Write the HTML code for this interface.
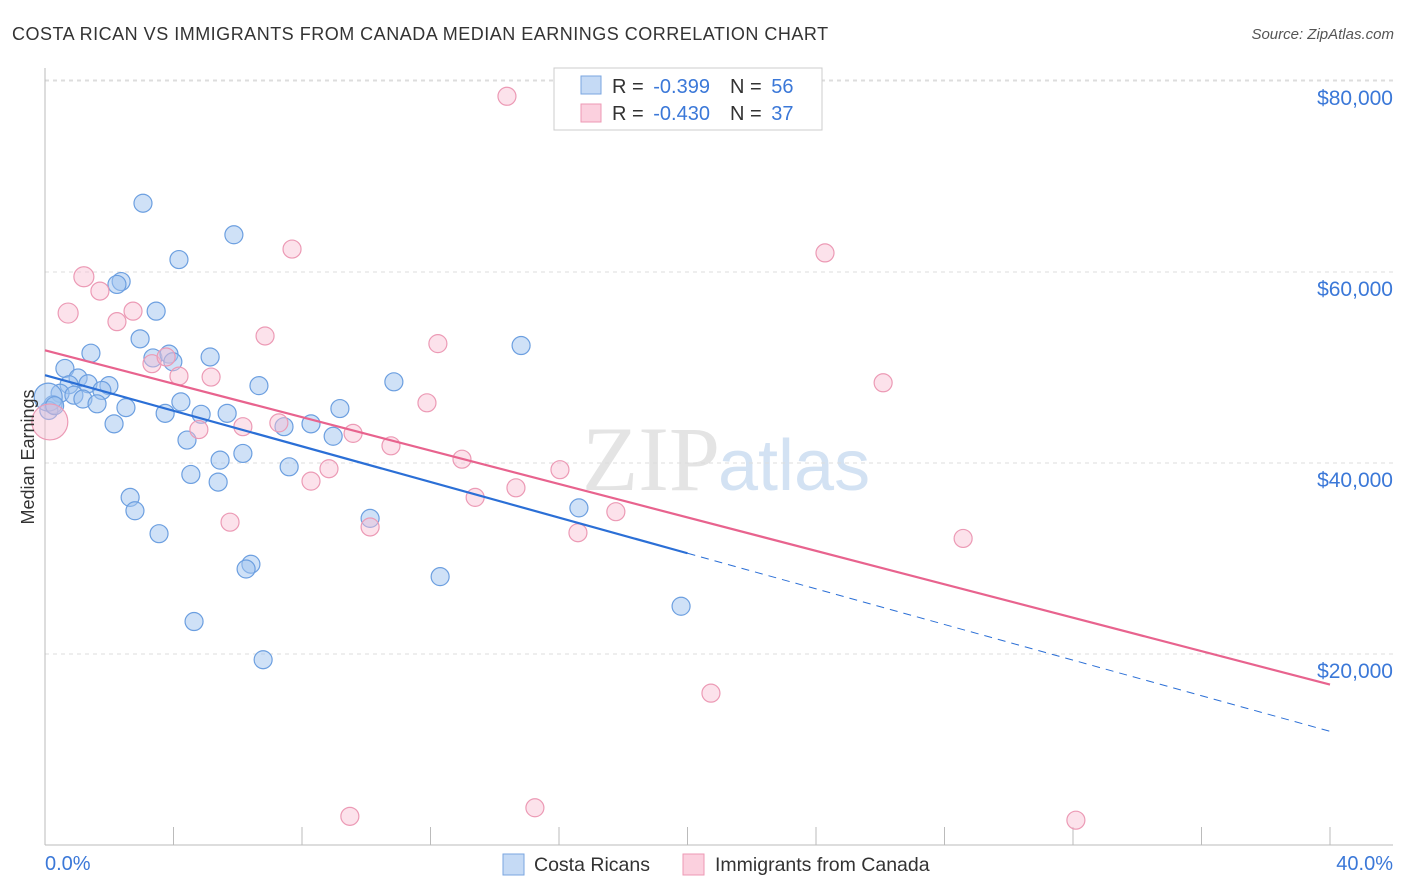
<!DOCTYPE html>
<html><head><meta charset="utf-8"><style>
body{margin:0;background:#fff;font-family:"Liberation Sans",sans-serif}
svg{display:block}
</style></head><body>
<svg id="chart" width="1406" height="892">
<text x="12" y="40" font-size="18" fill="#333" letter-spacing="0.5">COSTA RICAN VS IMMIGRANTS FROM CANADA MEDIAN EARNINGS CORRELATION CHART</text>
<text x="1394" y="39" font-size="15" fill="#555" font-style="italic" text-anchor="end">Source: ZipAtlas.com</text>
<text x="720" y="490" font-size="92" fill="#e4e4e4" text-anchor="end" font-family="Liberation Serif">ZIP</text>
<text x="718" y="490" font-size="72" fill="#d3e2f3">atlas</text>
<g id="grid"></g>
<g id="axes"></g>
<g id="marks"></g>
<g id="trends"></g>
<text x="34" y="457" font-size="18" fill="#333" text-anchor="middle" transform="rotate(-90 34 457)">Median Earnings</text>
<text x="45" y="870" font-size="20" fill="#3b78d8">0.0%</text>
<text x="1393" y="870" font-size="20" fill="#3b78d8" text-anchor="end">40.0%</text>
<g>
<rect x="554" y="68" width="268" height="62" fill="#fff" stroke="#ccc"/>
<rect x="581" y="76" width="20" height="18" fill="#c5daf5" stroke="#7aa6e0"/>
<rect x="581" y="104" width="20" height="18" fill="#fbd0de" stroke="#ee99b4"/>
<text x="612" y="93" font-size="20" fill="#333">R = <tspan fill="#3b78d8" dx="4">-0.399</tspan><tspan dx="20">N = </tspan><tspan fill="#3b78d8" dx="4">56</tspan></text>
<text x="612" y="120" font-size="20" fill="#333">R = <tspan fill="#3b78d8" dx="4">-0.430</tspan><tspan dx="20">N = </tspan><tspan fill="#3b78d8" dx="4">37</tspan></text>
</g>
<g>
<rect x="503" y="854" width="21" height="21" fill="#c5daf5" stroke="#7aa6e0"/>
<text x="534" y="871" font-size="19.5" fill="#333">Costa Ricans</text>
<rect x="683" y="854" width="21" height="21" fill="#fbd0de" stroke="#ee99b4"/>
<text x="715" y="871" font-size="19.5" fill="#333">Immigrants from Canada</text>
</g>
</svg>
<script>
const yTicks=[20000,40000,60000,80000];
const yTickLabels=["$20,000","$40,000","$60,000","$80,000"];
const xTicks=[0,4,8,12,16,20,24,28,32,36,40];
const blueX=[3.05,5.88,4.17,2.37,2.24,3.46,2.96,1.43,3.36,3.86,5.14,3.98,0.62,1.03,0.75,1.34,1.99,1.77,0.47,0.90,1.18,1.62,2.52,0.25,0.12,4.23,3.74,4.86,5.67,6.66,10.86,14.82,9.18,8.28,2.15,7.44,4.42,6.16,5.45,7.60,4.54,5.39,2.65,2.80,10.12,8.97,16.62,3.55,6.41,6.26,12.30,19.80,4.64,6.79,0.1,0.3];
const blueY=[67.2,63.9,61.3,59.0,58.7,55.9,53.0,51.5,51.0,51.4,51.1,50.6,49.9,48.9,48.2,48.3,48.1,47.6,47.3,47.1,46.7,46.2,45.8,46.1,45.5,46.4,45.2,45.1,45.2,48.1,48.5,52.3,45.7,44.1,44.1,43.8,42.4,41.0,40.3,39.6,38.8,38.0,36.4,35.0,34.2,42.8,35.3,32.6,29.4,28.9,28.1,25.0,23.4,19.4,46.9,46.0];
const blueR=[9,9,9,9,9,9,9,9,9,9,9,9,9,9,9,9,9,9,9,9,9,9,9,9,9,9,9,9,9,9,9,9,9,9,9,9,9,9,9,9,9,9,9,9,9,9,9,9,9,9,9,9,9,9,14,9];
const pinkX=[14.38,24.28,7.69,1.21,1.71,0.72,2.24,2.74,6.85,12.23,3.33,3.77,4.17,5.17,26.09,11.89,0.15,4.79,6.16,7.28,9.59,10.77,12.98,16.03,8.84,8.28,14.66,13.39,17.77,16.59,5.76,10.12,28.58,20.73,9.49,15.25,32.09];
const pinkY=[78.4,62.0,62.4,59.5,58.0,55.7,54.8,55.9,53.3,52.5,50.4,51.1,49.1,49.0,48.4,46.3,44.3,43.5,43.8,44.2,43.1,41.8,40.4,39.3,39.4,38.1,37.4,36.4,34.9,32.7,33.8,33.3,32.1,15.9,3.0,3.9,2.6];
const pinkR=[9,9,9,10,9,10,9,9,9,9,9,9,9,9,9,9,18,9,9,9,9,9,9,9,9,9,9,9,9,9,9,9,9,9,9,9,9];
const blueTrend=[49.2,11.9];
const pinkTrend=[51.8,16.8];
const blueSolidEnd=20;
const NS="http://www.w3.org/2000/svg";
const sx=v=>45+v/40*1285;
const sy=v=>845-v*1000/20000*191;
function mk(tag,attrs,parent){const e=document.createElementNS(NS,tag);for(const k in attrs)e.setAttribute(k,attrs[k]);parent.appendChild(e);return e;}
const grid=document.getElementById('grid'),axes=document.getElementById('axes'),marks=document.getElementById('marks'),trends=document.getElementById('trends');
mk('line',{x1:45,x2:1393,y1:80,y2:80,stroke:'#ddd','stroke-dasharray':'4 4'},grid);
yTicks.forEach((t,i)=>{const y=sy(t/1000);
const l=mk('line',{x1:45,x2:1393,y1:y,y2:y,stroke:'#ddd','stroke-dasharray':'4 4'},grid);


const tx=mk('text',{x:1393,y:y+24,'font-size':21,fill:'#3b78d8','text-anchor':'end'},axes);tx.textContent=yTickLabels[i];

});
const ax=mk('line',{x1:45,x2:45,y1:68,y2:845,stroke:'#bbb'},axes);


const bx=mk('line',{x1:45,x2:1393,y1:845,y2:845,stroke:'#bbb'},axes);


xTicks.forEach(t=>{const x=sx(t);const l=mk('line',{x1:x,x2:x,y1:827,y2:845,stroke:'#bbb'},axes);

});
blueX.forEach((x,i)=>{const c=mk('circle',{cx:sx(x),cy:sy(blueY[i]),r:blueR[i],fill:'rgba(160,196,240,0.5)',stroke:'#6c9fe0','stroke-width':1.2},marks);

});
pinkX.forEach((x,i)=>{const c=mk('circle',{cx:sx(x),cy:sy(pinkY[i]),r:pinkR[i],fill:'rgba(248,190,210,0.45)',stroke:'#ec9ab5','stroke-width':1.2},marks);

});
const by=x=>blueTrend[0]+(blueTrend[1]-blueTrend[0])*x/40;
const t1=mk('line',{x1:sx(0),y1:sy(blueTrend[0]),x2:sx(blueSolidEnd),y2:sy(by(blueSolidEnd)),stroke:'#2b6fd6','stroke-width':2.2},trends);


const t2=mk('line',{x1:sx(blueSolidEnd),y1:sy(by(blueSolidEnd)),x2:sx(40),y2:sy(blueTrend[1]),stroke:'#2b6fd6','stroke-width':1,'stroke-dasharray':'8 6'},trends);


const t3=mk('line',{x1:sx(0),y1:sy(pinkTrend[0]),x2:sx(40),y2:sy(pinkTrend[1]),stroke:'#e8638e','stroke-width':2.2},trends);


</script>
</body></html>
